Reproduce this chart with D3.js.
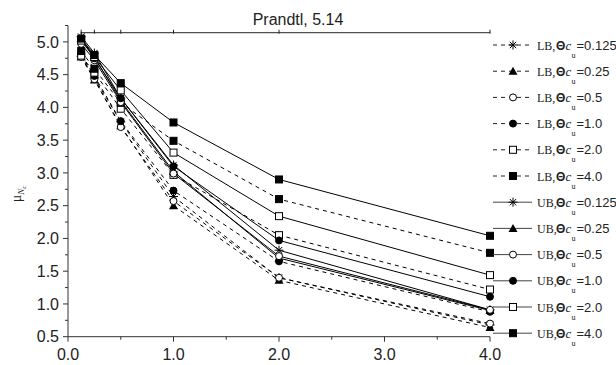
<!DOCTYPE html>
<html>
<head>
<meta charset="utf-8">
<script src="https://cdn.jsdelivr.net/npm/d3@7"></script>
<style>
  body { margin: 0; background: #fff; }
  svg { display: block; }
</style>
</head>
<body>
<svg width="616" height="365"></svg>
<script>
// x values (Θc_u ratio axis)
const xVals = [0.125, 0.25, 0.5, 1.0, 2.0, 4.0]

// lower bound series
const lb0125 = [4.78, 4.45, 3.78, 2.64, 1.40, 0.68]
const lb025  = [4.77, 4.42, 3.72, 2.50, 1.36, 0.64]
const lb05   = [4.77, 4.43, 3.70, 2.57, 1.40, 0.70]
const lb10   = [4.80, 4.48, 3.79, 2.73, 1.65, 0.88]
const lb20   = [4.79, 4.53, 3.98, 2.97, 2.05, 1.22]
const lb40   = [4.86, 4.59, 4.07, 3.49, 2.60, 1.78]

// upper bound series
const ub0125 = [5.08, 4.83, 4.14, 3.12, 1.82, 0.91]
const ub025  = [5.05, 4.77, 4.10, 3.02, 1.70, 0.90]
const ub05   = [4.97, 4.72, 4.08, 2.99, 1.73, 0.91]
const ub10   = [5.03, 4.75, 4.14, 3.10, 1.97, 1.11]
const ub20   = [5.02, 4.77, 4.26, 3.31, 2.34, 1.44]
const ub40   = [5.05, 4.80, 4.37, 3.77, 2.90, 2.04]

const prandtl = 5.14
const ratioLabels = ["0.125", "0.25", "0.5", "1.0", "2.0", "4.0"]
const symbols = ["star", "triangle", "circleOpen", "circle", "squareOpen", "square"]
const xTickLabels = ["0.0", "1.0", "2.0", "3.0", "4.0"]
const yTickLabels = ["0.5", "1.0", "1.5", "2.0", "2.5", "3.0", "3.5", "4.0", "4.5", "5.0"]

const lbSeries = [lb0125, lb025, lb05, lb10, lb20, lb40]
const ubSeries = [ub0125, ub025, ub05, ub10, ub20, ub40]

const series = []
lbSeries.forEach((v, i) => series.push({ kind: "LB", ratio: ratioLabels[i], sym: symbols[i], dash: true, values: v }))
ubSeries.forEach((v, i) => series.push({ kind: "UB", ratio: ratioLabels[i], sym: symbols[i], dash: false, values: v }))

const svg = d3.select("svg")
const axisColor = "#333"

const x = d3.scaleLinear().domain([0, 4]).range([68, 490])
const y = d3.scaleLinear().domain([0.5, 5.25]).range([336.7, 25.5])

// axes
const xAxis = svg.append("g").attr("transform", `translate(0,${y(0.5)})`)
xAxis.append("line").attr("x1", x(0)).attr("x2", x(4)).attr("stroke", axisColor)
xAxis.selectAll(".minor").data(d3.range(0, 4.01, 0.5)).enter().append("line")
  .attr("x1", d => x(d)).attr("x2", d => x(d))
  .attr("y1", 0).attr("y2", (d, i) => i % 2 === 0 ? 5 : 3)
  .attr("stroke", axisColor)
xAxis.selectAll("text").data(xTickLabels).enter().append("text")
  .attr("x", d => x(+d)).attr("y", 23.5)
  .attr("text-anchor", "middle")
  .attr("font-family", "Liberation Sans, Arial, sans-serif")
  .attr("font-size", 16).attr("fill", "#222")
  .text(d => d)

const yAxis = svg.append("g").attr("transform", `translate(${x(0)},0)`)
yAxis.append("line").attr("y1", y(0.5)).attr("y2", y(5.25)).attr("stroke", axisColor)
yAxis.selectAll(".tk").data(d3.range(0.5, 5.26, 0.25)).enter().append("line")
  .attr("y1", d => y(d)).attr("y2", d => y(d))
  .attr("x1", (d, i) => i % 2 === 0 ? -5 : -3).attr("x2", 0)
  .attr("stroke", axisColor)
yAxis.selectAll("text").data(yTickLabels).enter().append("text")
  .attr("x", -9).attr("y", d => y(+d)).attr("dy", "0.36em")
  .attr("text-anchor", "end")
  .attr("font-family", "Liberation Sans, Arial, sans-serif")
  .attr("font-size", 16).attr("fill", "#222")
  .text(d => d)

// y label  μ_Nc
const ylab = svg.append("text")
  .attr("transform", "translate(21,194) rotate(-90)")
  .attr("text-anchor", "middle")
  .attr("font-family", "Liberation Serif, serif")
  .attr("fill", "#222")
ylab.append("tspan").attr("font-size", 14).text("μ")
ylab.append("tspan").attr("font-size", 9).attr("font-style", "italic").attr("dy", 3).text("N")
ylab.append("tspan").attr("font-size", 7).attr("font-style", "italic").attr("dy", 2).text("c")

// Prandtl reference line
svg.append("line")
  .attr("x1", x(xVals[0])).attr("x2", x(xVals[xVals.length - 1]))
  .attr("y1", y(prandtl)).attr("y2", y(prandtl))
  .attr("stroke", "#222")
svg.selectAll(".ptick").data(xVals).enter().append("line")
  .attr("x1", d => x(d)).attr("x2", d => x(d))
  .attr("y1", y(prandtl) - 3).attr("y2", y(prandtl) + 1)
  .attr("stroke", "#222")
svg.append("text")
  .attr("x", 298).attr("y", 25)
  .attr("text-anchor", "middle")
  .attr("font-family", "Liberation Sans, Arial, sans-serif")
  .attr("font-size", 16).attr("fill", "#222")
  .text("Prandtl, " + prandtl.toFixed(2))

// marker drawing
function marker(g, sym, cx, cy) {
  const s = 3.5
  if (sym === "square" || sym === "squareOpen") {
    g.append("rect").attr("x", cx - s).attr("y", cy - s).attr("width", 2 * s).attr("height", 2 * s)
      .attr("fill", sym === "square" ? "#000" : "#fff").attr("stroke", "#000").attr("stroke-width", 1)
  } else if (sym === "circle" || sym === "circleOpen") {
    g.append("circle").attr("cx", cx).attr("cy", cy).attr("r", s)
      .attr("fill", sym === "circle" ? "#000" : "#fff").attr("stroke", "#000").attr("stroke-width", 1)
  } else if (sym === "triangle") {
    g.append("path")
      .attr("d", `M${cx},${cy - 4.5}L${cx + 4.5},${cy + 3.5}L${cx - 4.5},${cy + 3.5}Z`)
      .attr("fill", "#000")
  } else if (sym === "star") {
    const r = 4.5, d = 3.2
    g.append("path")
      .attr("d", `M${cx},${cy - r}L${cx},${cy + r}M${cx - r},${cy}L${cx + r},${cy}` +
        `M${cx - d},${cy - d}L${cx + d},${cy + d}M${cx - d},${cy + d}L${cx + d},${cy - d}`)
      .attr("stroke", "#000").attr("stroke-width", 1).attr("fill", "none")
  }
}

const line = d3.line().x((d, i) => x(xVals[i])).y(d => y(d))

const plot = svg.append("g")
plot.selectAll("path.series").data(series).enter().append("path")
  .attr("class", "series")
  .attr("d", d => line(d.values))
  .attr("fill", "none")
  .attr("stroke", "#000")
  .attr("stroke-width", 1)
  .attr("stroke-dasharray", d => d.dash ? "4,4" : null)

const marks = svg.append("g")
series.forEach(s => {
  s.values.forEach((v, i) => marker(marks, s.sym, x(xVals[i]), y(v)))
})

// legend
const legend = svg.append("g")
series.forEach((s, i) => {
  const ry = 45 + i * 26.2
  const g = legend.append("g")
  g.append("line").attr("x1", 493).attr("x2", 532).attr("y1", ry).attr("y2", ry)
    .attr("stroke", s.dash ? "#222" : "#444").attr("stroke-width", 1)
    .attr("stroke-dasharray", s.dash ? "4,4" : null)
  marker(g, s.sym, 513, ry)
  const t = g.append("text").attr("y", ry + 4.5).attr("fill", "#222")
  t.append("tspan").attr("x", 537).attr("font-family", "Liberation Serif, serif").attr("font-size", 12).text(s.kind + ",")
  t.append("tspan").attr("x", 556).attr("font-family", "Liberation Sans, sans-serif").attr("font-weight", "bold").attr("font-size", 12).text("Θ")
  t.append("tspan").attr("x", 565.5).attr("font-family", "Liberation Serif, serif").attr("font-style", "italic").attr("font-size", 13).text("c")
  t.append("tspan").attr("x", 571.5).attr("dy", 8).attr("font-family", "Liberation Serif, serif").attr("font-size", 8).text("u")
  t.append("tspan").attr("x", 576.5).attr("dy", -8).attr("font-family", "Liberation Sans, Arial, sans-serif").attr("font-size", 13).text("=" + s.ratio)
})
</script>
</body>
</html>
